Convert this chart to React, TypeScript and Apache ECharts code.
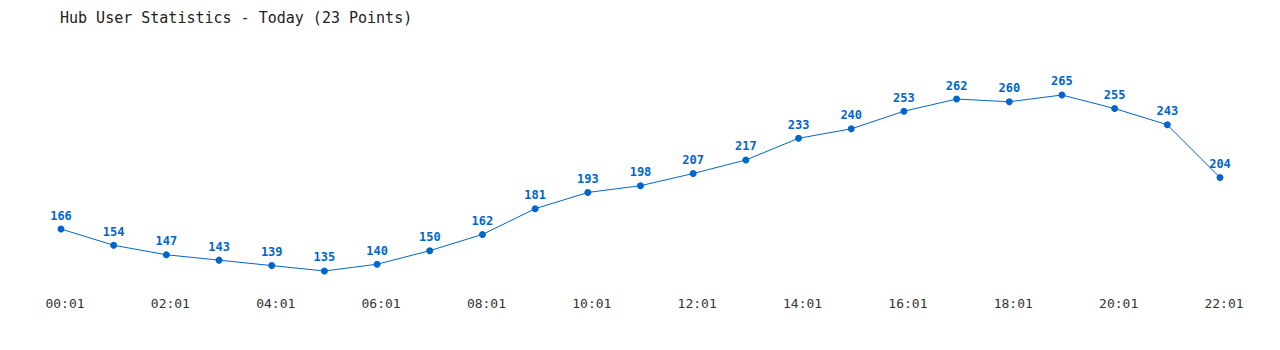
import React, { useEffect, useRef } from "react";
import * as echarts from "echarts";

const categories = [
  "00:01", "01:01", "02:01", "03:01", "04:01", "05:01", "06:01", "07:01",
  "08:01", "09:01", "10:01", "11:01", "12:01", "13:01", "14:01", "15:01",
  "16:01", "17:01", "18:01", "19:01", "20:01", "21:01", "22:01",
];
const users = [166, 154, 147, 143, 139, 135, 140, 150, 162, 181, 193, 198, 207, 217, 233, 240, 253, 262, 260, 265, 255, 243, 204];
const titleText = "Hub User Statistics - Today (23 Points)";

const MONO = "'DejaVu Sans Mono', 'Liberation Mono', monospace";
const BLUE = "#0066cc";

export default function App() {
  const ref = useRef<HTMLDivElement>(null);
  useEffect(() => {
    if (!ref.current) return;
    const chart = echarts.init(ref.current, null, { renderer: "svg" });
    chart.setOption({
      animation: false,
      backgroundColor: "#ffffff",
      title: {
        text: titleText,
        left: 55,
        top: 5,
        textStyle: { fontFamily: MONO, fontSize: 15, fontWeight: "normal", color: "#222" },
      },
      grid: { left: 61, right: 60, top: 47.6, bottom: 58.7, containLabel: false },
      xAxis: {
        type: "category",
        data: categories,
        boundaryGap: false,
        axisLine: { show: false },
        axisTick: { show: false },
        splitLine: { show: false },
        axisLabel: {
          interval: 1,
          margin: 6,
          padding: [0, 0, 0, 8],
          fontFamily: MONO,
          fontSize: 13,
          color: "#333",
        },
      },
      yAxis: {
        type: "value",
        min: 120,
        max: 300,
        show: false,
        splitLine: { show: false },
      },
      series: [
        {
          type: "line",
          data: users,
          symbol: "circle",
          symbolSize: 7,
          lineStyle: { color: BLUE, width: 1 },
          itemStyle: { color: BLUE },
          label: {
            show: true,
            position: "top",
            distance: 4,
            fontFamily: MONO,
            fontSize: 12,
            fontWeight: "bold",
            color: BLUE,
          },
        },
      ],
    });
    return () => chart.dispose();
  }, []);
  return (
    <div
      ref={ref}
      style={{ position: "absolute", left: 0, top: 0, width: 1280, height: 350 }}
    />
  );
}
